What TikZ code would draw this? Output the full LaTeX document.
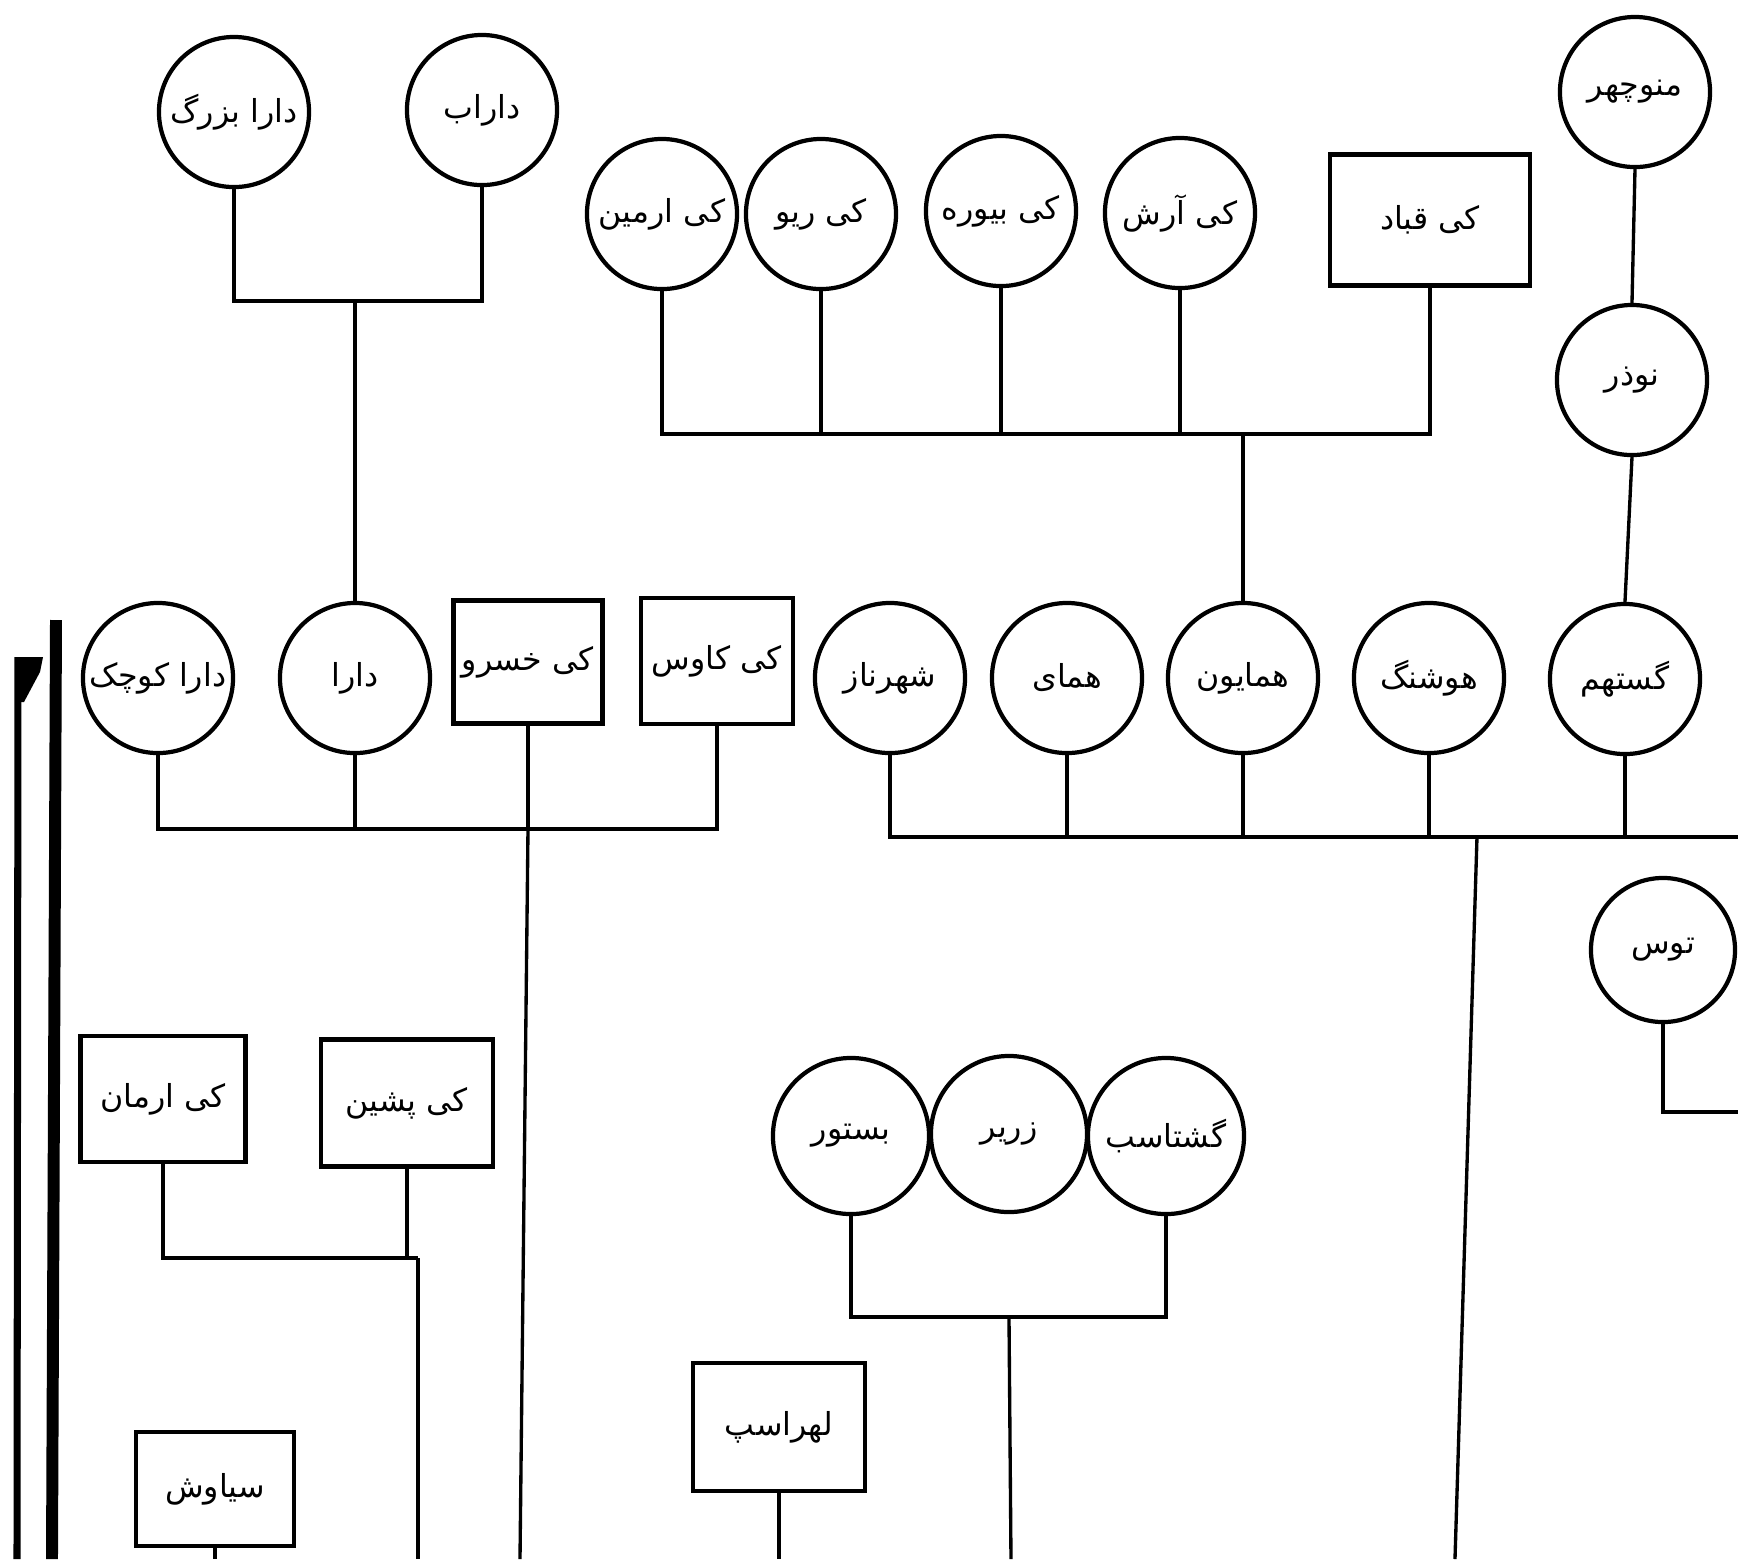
\documentclass[tikz,border=0pt]{standalone}
\usepackage{fontspec}
\newfontfamily\farsi[Script=Arabic]{DejaVu Sans}
\TeXXeTstate=1
\newcommand{\fname}[1]{\farsi\beginR #1\endR}
\tikzset{
	person/.style={circle, draw, line width=1.2pt, minimum size=1.5cm, inner sep=0pt, font=\fontsize{9}{11}\selectfont},
	ruler/.style={rectangle, draw, line width=1.3pt, inner sep=0pt, font=\fontsize{9}{11}\selectfont},
	link/.style={line width=0.95pt},
}

\begin{document}
\begin{tikzpicture}[x=0.01cm, y=-0.01cm]
	\useasboundingbox (0,0) rectangle (1738,1559);
	% top left pair
	\node[person] (ta) at (234,112) {\fname{دارا بزرگ}};
	\node[person] (tb) at (482,110) {\fname{داراب}};
	% top row
	\node[person] (p1) at (662,214) {\fname{کی ارمین}};
	\node[person] (p2) at (821,214) {\fname{کی ریو}};
	\node[person] (p3) at (1001,211) {\fname{کی بیوره}};
	\node[person] (p4) at (1180,213) {\fname{کی آرش}};
	\node[ruler, minimum width=2.0cm, minimum height=1.31cm] (pq) at (1430,220) {\fname{کی قباد}};
	% right column
	\node[person] (mn) at (1635,92) {\fname{منوچهر}};
	\node[person] (nz) at (1632,380) {\fname{نوذر}};
	% second row
	\node[person] (r1) at (158,678) {\fname{دارا کوچک}};
	\node[person] (r2) at (355,678) {\fname{دارا}};
	\node[ruler, minimum width=1.49cm, minimum height=1.23cm] (r3) at (528,662) {\fname{کی خسرو}};
	\node[ruler, minimum width=1.52cm, minimum height=1.26cm] (r4) at (717,661) {\fname{کی کاوس}};
	\node[person] (r6) at (890,678) {\fname{شهرناز}};
	\node[person] (r7) at (1067,678) {\fname{همای}};
	\node[person] (r8) at (1243,678) {\fname{همایون}};
	\node[person] (r9) at (1429,678) {\fname{هوشنگ}};
	\node[person] (r10) at (1625,679) {\fname{گستهم}};
	\node[person, minimum size=1.44cm] (tus) at (1663,950) {\fname{توس}};
	% third row
	\node[ruler, minimum width=1.65cm, minimum height=1.26cm] (q1) at (163,1099) {\fname{کی ارمان}};
	\node[ruler, minimum width=1.72cm, minimum height=1.27cm] (q2) at (407,1103) {\fname{کی پشین}};
	\node[person, minimum size=1.56cm] (b1) at (851,1136) {\fname{بستور}};
	\node[person, minimum size=1.56cm] (b2) at (1009,1134) {\fname{زریر}};
	\node[person, minimum size=1.56cm] (b3) at (1166,1136) {\fname{گشتاسب}};
	% bottom boxes
	\node[ruler, minimum width=1.58cm, minimum height=1.14cm] (sy) at (215,1489) {\fname{سیاوش}};
	\node[ruler, minimum width=1.72cm, minimum height=1.28cm] (lh) at (779,1427) {\fname{لهراسپ}};

	% joints and free ends
	\coordinate (j1) at (355,301);
	\coordinate (j2) at (1243,434);
	\coordinate (j3) at (528,829);
	\coordinate (j4) at (1477,837);
	\coordinate (j5) at (418,1258);
	\coordinate (j6) at (1009,1317);
	\coordinate (e4) at (1738,837);
	\coordinate (e6) at (1738,1112);

	% connectors
	\draw[link] (ta.south) |- (j1) -| (tb.south);
	\draw[link] (j1) -- (r2.north);
	\draw[link] (p1.south) |- (pq.south |- j2) -- (pq.south);
	\foreach \n in {p2,p3,p4} {
		\draw[link] (\n.south) -- (\n.south |- j2);
	}
	\draw[link] (j2) -- (r8.north);
	\draw[link] (mn.south) -- (nz.north);
	\draw[link] (nz.south) -- (r10.north);
	\draw[link] (r1.south) |- (r4.south |- j3) -- (r4.south);
	\draw[link] (r2.south) -- (r2.south |- j3);
	\draw[link] (r3.south) -- (j3);
	\draw[link] (j3) -- (520,1559);
	\draw[link] (r6.south) |- (e4);
	\foreach \n in {r7,r8,r9,r10} {
		\draw[link] (\n.south) -- (\n.south |- j4);
	}
	\draw[link] (j4) -- (1455,1559);
	\draw[link] (tus.south) |- (e6);
	\draw[link] (q1.south) |- (j5);
	\draw[link] (q2.south) -- (q2.south |- j5);
	\draw[link] (j5) -- (418,1559);
	\draw[link] (b1.south) |- (b3.south |- j6) -- (b3.south);
	\draw[link] (j6) -- (1011,1559);
	\draw[link] (lh.south) -- (lh.south |- 0,1559);
	\draw[link] (sy.south) -- (sy.south |- 0,1559);

	% page edge at the left
	\fill (15,657) -- (43,657) -- (40,672) -- (24,702) -- (15,702) -- cycle;
	\draw[line width=2pt] (18,657) -- (17,1559);
	\draw[line width=3.4pt] (56,620) -- (52,1559);
\end{tikzpicture}
\end{document}
